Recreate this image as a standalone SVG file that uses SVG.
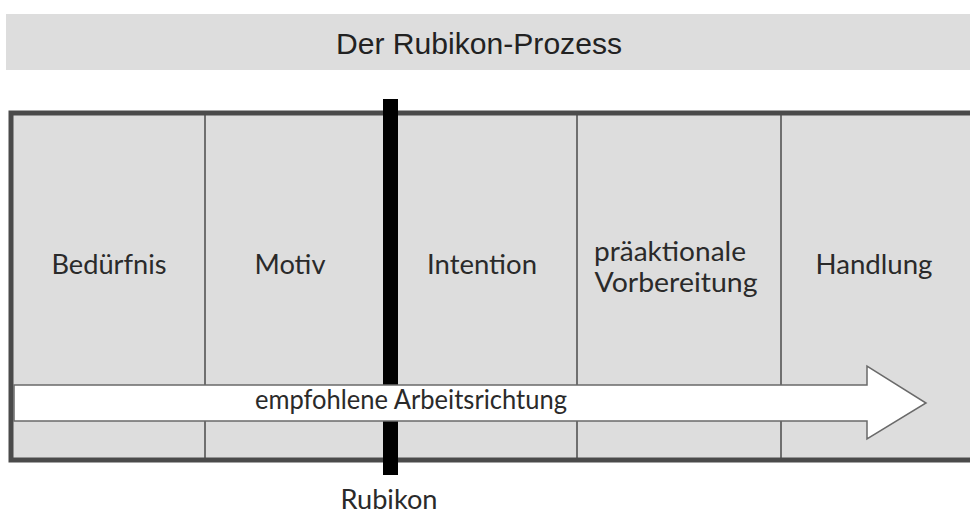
<svg xmlns="http://www.w3.org/2000/svg" width="970" height="515" viewBox="0 0 970 515">
<style>
  .lbl { font-family: Lato, "Open Sans", "Liberation Sans", sans-serif; font-size: 27px; fill: #2a2a2a; text-anchor: middle; }
  .cell { fill: #dddddd; }
  .div { stroke: #6f6f6f; stroke-width: 2; }
</style>
<rect x="0" y="0" width="970" height="515" fill="#ffffff"/>
<g id="title">
  <rect x="6" y="14" width="970" height="56" fill="#dddddd"/>
  <text x="479" y="54" font-family="'Liberation Sans', Arial, sans-serif" font-size="30" fill="#222" text-anchor="middle" textLength="286" lengthAdjust="spacingAndGlyphs">Der Rubikon-Prozess</text>
</g>
<g id="frame">
  <rect class="cell" x="11" y="113" width="980" height="347"/>
  <line class="div" x1="205" y1="113" x2="205" y2="460"/>
  <line class="div" x1="577" y1="113" x2="577" y2="460"/>
  <line class="div" x1="781" y1="113" x2="781" y2="460"/>
  <rect x="11" y="113" width="980" height="347" fill="none" stroke="#4a4a4a" stroke-width="5"/>
</g>
<g id="beduerfnis"><text class="lbl" x="109" y="274" textLength="115" lengthAdjust="spacingAndGlyphs">Bedürfnis</text></g>
<g id="motiv"><text class="lbl" x="290" y="274" textLength="71" lengthAdjust="spacingAndGlyphs">Motiv</text></g>
<g id="intention"><text class="lbl" x="482" y="274" textLength="110" lengthAdjust="spacingAndGlyphs">Intention</text></g>
<g id="vorbereitung">
  <text class="lbl" x="670" y="261" textLength="152" lengthAdjust="spacingAndGlyphs">präaktionale</text>
  <text class="lbl" x="676" y="292" textLength="163" lengthAdjust="spacingAndGlyphs">Vorbereitung</text>
</g>
<g id="handlung"><text class="lbl" x="874" y="274" textLength="117" lengthAdjust="spacingAndGlyphs">Handlung</text></g>
<g id="rubikon">
  <rect x="383" y="99" width="15" height="376" fill="#000000"/>
  <text class="lbl" x="389" y="509" font-size="26" textLength="97" lengthAdjust="spacingAndGlyphs">Rubikon</text>
</g>
<g id="connectors">
  <g id="arbeitsrichtung">
    <polygon points="14,385 867,385 867,366 926,403 867,439 867,421 14,421" fill="#ffffff" stroke="#6a6a6a" stroke-width="1.5" stroke-linejoin="miter"/>
    <text class="lbl" x="411" y="409" font-size="26" textLength="312" lengthAdjust="spacingAndGlyphs">empfohlene Arbeitsrichtung</text>
  </g>
</g>
</svg>
